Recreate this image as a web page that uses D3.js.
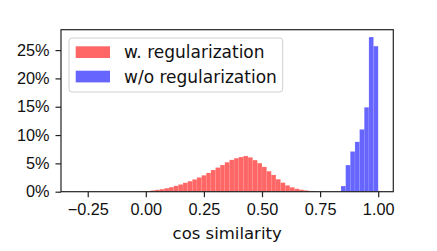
<!DOCTYPE html>
<html lang="en">
<head>
<meta charset="utf-8">
<title>cos similarity histogram</title>
<style>
    html, body {
        margin: 0;
        background: white;
    }
    svg {
        font-family: 'DejaVu Sans', sans-serif;
    }
    .axis text {
        font-size: 16.3px;
        fill: #111;
    }
    .axis path, .axis line {
        stroke: #222;
        stroke-width: 1.2;
    }
</style>
</head>
<body>
<div id="vis"></div>
<script src="https://d3js.org/d3.v7.min.js"></script>
<script>
var binWidth = 0.02;

// left edge of each bin and the share of samples in it (%)
var redBins = [-0.02, 0.00, 0.02, 0.04, 0.06, 0.08, 0.10, 0.12, 0.14, 0.16,
               0.18, 0.20, 0.22, 0.24, 0.26, 0.28, 0.30, 0.32, 0.34, 0.36,
               0.38, 0.40, 0.42, 0.44, 0.46, 0.48, 0.50, 0.52, 0.54, 0.56,
               0.58, 0.60, 0.62, 0.64, 0.66, 0.68, 0.70, 0.72];
var redPct = [0.05, 0.12, 0.22, 0.33, 0.45, 0.62, 0.80, 1.03, 1.28, 1.57,
              1.86, 2.17, 2.52, 2.90, 3.32, 3.83, 4.26, 4.72, 5.20, 5.62,
              5.92, 6.12, 6.30, 6.06, 5.58, 5.04, 4.38, 3.62, 2.96, 2.20,
              1.60, 1.12, 0.78, 0.52, 0.35, 0.23, 0.13, 0.06];

var blueBins = [0.84, 0.86, 0.88, 0.90, 0.92, 0.94, 0.96, 0.98];
var bluePct = [1.0, 4.7, 7.1, 8.8, 11.0, 14.9, 27.3, 25.7];

var xTicks = [-0.25, 0, 0.25, 0.5, 0.75, 1.0];
var yTicks = [0, 5, 10, 15, 20, 25];

var seriesNames = ['w. regularization', 'w/o regularization'];
var seriesColors = ['rgba(255,0,0,0.6)', 'rgba(0,0,255,0.6)'];

var width = 437;
var height = 251;

var margin = {
    top: 29.7,
    bottom: 59.3,
    left: 61,
    right: 43.7
};

var svg = d3.select('#vis')
    .append('svg')
    .attr('width', width)
    .attr('height', height)
    .append('g')
    .attr('transform', 'translate(' + margin.left + ',' + margin.top + ')');

var w = width - margin.left - margin.right;
var h = height - margin.top - margin.bottom;

var x_scale = d3.scaleLinear()
    .domain([-0.365, 1.065])
    .range([0, w]);

var y_scale = d3.scaleLinear()
    .domain([0, 28.6])
    .range([h, 0]);

function drawBars(bins, pct, color, cls) {
    svg.selectAll('.' + cls)
        .data(bins)
        .enter()
        .append('rect')
        .attr('class', cls)
        .attr('x', function(d) { return x_scale(d); })
        .attr('width', function(d) { return x_scale(d + binWidth) - x_scale(d); })
        .attr('y', function(d, i) { return y_scale(pct[i]); })
        .attr('height', function(d, i) { return h - y_scale(pct[i]); })
        .attr('fill', color)
        .attr('stroke', 'rgba(255,255,255,0.25)')
        .attr('stroke-width', 0.4);
}

drawBars(redBins, redPct, seriesColors[0], 'red-bar');
drawBars(blueBins, bluePct, seriesColors[1], 'blue-bar');

var x_axis = d3.axisBottom(x_scale)
    .tickValues(xTicks)
    .tickSize(5.5)
    .tickPadding(6)
    .tickFormat(function(d) { return d3.format('.2f')(d).replace('-', '\u2212'); });

var y_axis = d3.axisLeft(y_scale)
    .tickValues(yTicks)
    .tickSize(5.5)
    .tickPadding(6)
    .tickFormat(function(d) { return d + '%'; });

svg.append('g')
    .attr('class', 'x axis')
    .attr('transform', 'translate(0,' + h + ')')
    .call(x_axis)
    .call(function(g) { g.select('.domain').remove(); })
    .selectAll('text')
    .attr('font-family', null)
    .attr('font-size', null);

svg.append('g')
    .attr('class', 'y axis')
    .call(y_axis)
    .call(function(g) { g.select('.domain').remove(); })
    .selectAll('text')
    .attr('font-family', null)
    .attr('font-size', null);

// frame
svg.append('rect')
    .attr('x', 0)
    .attr('y', 0)
    .attr('width', w)
    .attr('height', h)
    .attr('fill', 'none')
    .attr('stroke', '#222')
    .attr('stroke-width', 1.2);

svg.append('text')
    .attr('x', x_scale(0.35))
    .attr('y', h + 47.5)
    .attr('text-anchor', 'middle')
    .attr('font-size', '16.5px')
    .attr('fill', '#111')
    .text('cos similarity');

// legend
var legend = svg.append('g')
    .attr('transform', 'translate(8,8.3)');

legend.append('rect')
    .attr('width', 213.7)
    .attr('height', 54)
    .attr('rx', 3)
    .attr('fill', 'rgba(255,255,255,0.8)')
    .attr('stroke', '#d0d0d0')
    .attr('stroke-width', 1);

seriesNames.forEach(function(name, i) {
    legend.append('rect')
        .attr('x', 6.7)
        .attr('y', 8.3 + i * 24.4)
        .attr('width', 34.3)
        .attr('height', 11.7)
        .attr('fill', seriesColors[i]);
    legend.append('text')
        .attr('x', 55)
        .attr('y', 14.2 + i * 24.4)
        .attr('dy', '0.35em')
        .attr('font-size', '17px')
        .attr('fill', '#111')
        .text(name);
});
</script>
</body>
</html>
